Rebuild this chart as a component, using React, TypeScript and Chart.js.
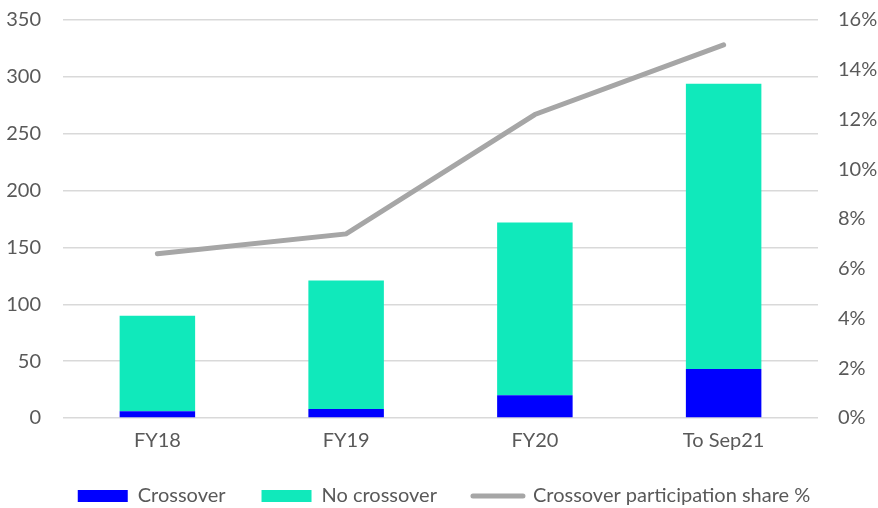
import React, { useEffect, useRef } from "react";
import { Chart, registerables } from "chart.js";

Chart.register(...registerables);

const categories = ["FY18", "FY19", "FY20", "To Sep21"];
const crossover = [6, 8, 20, 43];
const noCrossover = [84, 113, 152, 251];
const participationShare = [6.6, 7.4, 12.2, 15.0];
const seriesNames = ["Crossover", "No crossover", "Crossover participation share %"];
const seriesColors = ["#0000FF", "#10E9BB", "#A6A6A6"];

const FONT = "Lato";
const TEXT = "#595959";
const CLEAR = "rgba(0,0,0,0)";

const legendShift = {
  id: "legendShift",
  afterLayout(chart: any) {
    const lg = chart.legend;
    if (!lg) return;
    lg.left += 5;
    lg.right += 5;
  },
};

export default function App() {
  const ref = useRef<HTMLCanvasElement>(null);

  useEffect(() => {
    const canvas = ref.current;
    if (!canvas) return;
    const font = { family: FONT, size: 20 };
    const chart = new Chart(canvas, {
      type: "bar",
      plugins: [legendShift],
      data: {
        labels: categories,
        datasets: [
          {
            type: "bar",
            label: seriesNames[0],
            data: crossover,
            backgroundColor: seriesColors[0],
            yAxisID: "y",
            order: 1,
            barPercentage: 0.5,
            categoryPercentage: 0.8,
          },
          {
            type: "bar",
            label: seriesNames[1],
            data: noCrossover,
            backgroundColor: seriesColors[1],
            yAxisID: "y",
            order: 1,
            barPercentage: 0.5,
            categoryPercentage: 0.8,
          },
          {
            type: "line",
            label: seriesNames[2],
            data: participationShare,
            yAxisID: "y1",
            borderColor: seriesColors[2],
            backgroundColor: seriesColors[2],
            borderWidth: 5,
            pointRadius: 0,
            borderCapStyle: "round",
            tension: 0,
            order: 0,
          },
        ],
      } as any,
      options: {
        animation: false,
        responsive: false,
        maintainAspectRatio: false,
        layout: { padding: { top: 20, left: 0, right: 0, bottom: -8 } },
        plugins: {
          tooltip: { enabled: false },
          legend: {
            position: "bottom",
            labels: {
              color: TEXT,
              font,
              usePointStyle: true,
              pointStyleWidth: 50,
              boxHeight: 12,
              padding: 36,
              generateLabels: () => [
                {
                  text: seriesNames[0],
                  fillStyle: seriesColors[0],
                  strokeStyle: seriesColors[0],
                  lineWidth: 0,
                  pointStyle: "rect",
                  datasetIndex: 0,
                  hidden: false,
                  fontColor: TEXT,
                },
                {
                  text: seriesNames[1],
                  fillStyle: seriesColors[1],
                  strokeStyle: seriesColors[1],
                  lineWidth: 0,
                  pointStyle: "rect",
                  datasetIndex: 1,
                  hidden: false,
                  fontColor: TEXT,
                },
                {
                  text: seriesNames[2],
                  fillStyle: CLEAR,
                  strokeStyle: seriesColors[2],
                  lineWidth: 5,
                  lineCap: "round",
                  pointStyle: "line",
                  datasetIndex: 2,
                  hidden: false,
                  fontColor: TEXT,
                },
              ],
            },
          },
        },
        scales: {
          x: {
            stacked: true,
            grid: { display: false, drawTicks: false },
            border: { display: false },
            ticks: { color: TEXT, font, padding: 11 },
            afterFit: (s: any) => {
              s.height = 32;
            },
          },
          y: {
            stacked: true,
            position: "left",
            min: 0,
            max: 350,
            ticks: { stepSize: 50, color: TEXT, font, padding: 0 },
            grid: {
              color: "#D9D9D9",
              lineWidth: 1.5,
              drawTicks: true,
              tickLength: 22,
              tickColor: CLEAR,
            },
            border: { display: false },
            afterFit: (s: any) => {
              s.width = 63;
            },
          },
          y1: {
            position: "right",
            min: 0,
            max: 16,
            ticks: {
              stepSize: 2,
              color: TEXT,
              font,
              padding: 0,
              callback: (v: any) => v + "%",
            },
            grid: {
              display: true,
              color: CLEAR,
              drawOnChartArea: false,
              drawTicks: true,
              tickLength: 20,
              tickColor: CLEAR,
            },
            border: { display: false },
            afterFit: (s: any) => {
              s.width = 60;
            },
          },
        },
      } as any,
    });
    return () => chart.destroy();
  }, []);

  return (
    <div style={{ position: "absolute", left: 0, top: 0, width: 878, height: 508 }}>
      <canvas ref={ref} width={878} height={508} />
    </div>
  );
}
